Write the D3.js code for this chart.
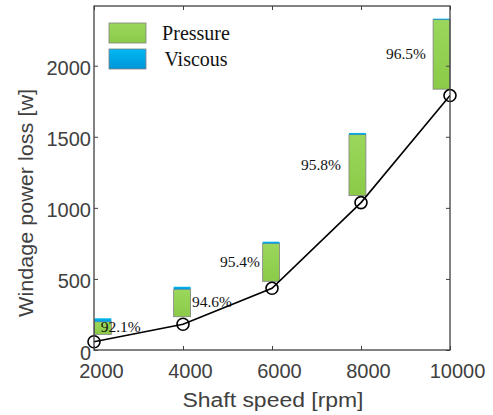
<!DOCTYPE html>
<html>
<head>
<meta charset="utf-8">
<script src="https://cdn.jsdelivr.net/npm/d3@7"></script>
<style>
  body { margin: 0; background: #fff; }
  svg { display: block; }
</style>
</head>
<body>
<svg id="chart"></svg>
<script>
// shaft speeds and total windage loss (line with circles)
const speeds = [2000, 4000, 6000, 8000, 10000];
const totalLoss = [58, 181, 434, 1037, 1790];

// floating stacked bars: centre speed, base, pressure part, viscous part
const barSpeeds = [2200, 3980, 5980, 7920, 9810];
const barBase = [110, 234, 483, 1086, 1835];
const pressure = [89, 193, 266, 429, 489];
const viscous = [24, 18, 13, 12, 7];

const shareLabels = ['92.1%', '94.6%', '95.4%', '95.8%', '96.5%'];
const labelSpeeds = [2150, 4200, 5730, 7550, 9460];
const labelAnchors = ['start', 'start', 'end', 'end', 'end'];

const xTicks = [2000, 4000, 6000, 8000, 10000];
const yTicks = [0, 500, 1000, 1500, 2000];
const legendNames = ['Pressure', 'Viscous'];

const width = 493, height = 415;
const margin = {top: 6, right: 43, bottom: 65, left: 94};
const axisCol = '#404040';

const svg = d3.select('#chart').attr('width', width).attr('height', height);

const defs = svg.append('defs');
const gGreen = defs.append('linearGradient').attr('id', 'gGreen').attr('x1', 0).attr('y1', 0).attr('x2', 0).attr('y2', 1);
gGreen.append('stop').attr('offset', 0).attr('stop-color', '#9ad75c');
gGreen.append('stop').attr('offset', 1).attr('stop-color', '#8bcb48');
const gBlue = defs.append('linearGradient').attr('id', 'gBlue').attr('x1', 0).attr('y1', 0).attr('x2', 0).attr('y2', 1);
gBlue.append('stop').attr('offset', 0).attr('stop-color', '#00b8f2');
gBlue.append('stop').attr('offset', 1).attr('stop-color', '#0096d8');

const x = d3.scaleLinear().domain([2000, 10000]).range([margin.left, width - margin.right]);
const y = d3.scaleLinear().domain([0, 2420]).range([height - margin.bottom, margin.top]);
const barW = x(2380) - x(2000);

// bars
const bars = svg.append('g').attr('stroke', '#808080').attr('stroke-width', 0.8);
bars.selectAll('rect.p')
  .data(speeds)
  .join('rect')
  .attr('class', 'p')
  .attr('x', (d, i) => Math.max(x(barSpeeds[i]) - barW / 2, margin.left))
  .attr('width', (d, i) => Math.min(x(barSpeeds[i]) + barW / 2, width - margin.right) - Math.max(x(barSpeeds[i]) - barW / 2, margin.left))
  .attr('y', (d, i) => y(barBase[i] + pressure[i]))
  .attr('height', (d, i) => y(barBase[i]) - y(barBase[i] + pressure[i]))
  .attr('fill', 'url(#gGreen)');
bars.selectAll('rect.v')
  .data(speeds)
  .join('rect')
  .attr('class', 'v')
  .attr('x', (d, i) => Math.max(x(barSpeeds[i]) - barW / 2, margin.left))
  .attr('width', (d, i) => Math.min(x(barSpeeds[i]) + barW / 2, width - margin.right) - Math.max(x(barSpeeds[i]) - barW / 2, margin.left))
  .attr('y', (d, i) => y(barBase[i] + pressure[i] + viscous[i]))
  .attr('height', (d, i) => y(barBase[i] + pressure[i]) - y(barBase[i] + pressure[i] + viscous[i]))
  .attr('fill', 'url(#gBlue)')
  .attr('stroke', 'none');

// share labels
svg.append('g')
  .attr('font-family', '"Liberation Serif", "Times New Roman", serif')
  .attr('font-size', 15.5)
  .attr('fill', '#111')
  .selectAll('text')
  .data(shareLabels)
  .join('text')
  .attr('x', (d, i) => x(labelSpeeds[i]))
  .attr('y', (d, i) => y(barBase[i] + (pressure[i] + viscous[i]) / 2))
  .attr('dy', '0.35em')
  .attr('text-anchor', (d, i) => labelAnchors[i])
  .text(d => d);

// loss line
const line = d3.line().x(d => x(d[0])).y(d => y(d[1]));
svg.append('path')
  .datum(speeds.map((s, i) => [s, totalLoss[i]]))
  .attr('fill', 'none')
  .attr('stroke', '#000')
  .attr('stroke-width', 1.6)
  .attr('d', line);
svg.append('g')
  .selectAll('circle')
  .data(speeds)
  .join('circle')
  .attr('cx', d => x(d))
  .attr('cy', (d, i) => y(totalLoss[i]))
  .attr('r', 6)
  .attr('fill', 'none')
  .attr('stroke', '#000')
  .attr('stroke-width', 1.6);

// axes box with inward ticks
const fontSans = '"Liberation Sans", Arial, sans-serif';
function styleAxis(g) {
  g.select('.domain').remove();
  g.selectAll('.tick line').attr('stroke', axisCol);
  g.selectAll('.tick text').attr('fill', axisCol).attr('font-family', fontSans).attr('font-size', 20);
}
svg.append('g')
  .attr('transform', `translate(0,${y(0)})`)
  .call(d3.axisBottom(x).tickValues(xTicks).tickFormat(d3.format('d')).tickSize(-4).tickPadding(14))
  .call(styleAxis)
  .call(g => g.selectAll('.tick text').attr('dx', 7));
svg.append('g')
  .attr('transform', `translate(0,${margin.top})`)
  .call(d3.axisTop(x).tickValues(xTicks).tickFormat('').tickSize(-4))
  .call(styleAxis);
svg.append('g')
  .attr('transform', `translate(${margin.left},0)`)
  .call(d3.axisLeft(y).tickValues(yTicks).tickFormat(d3.format('d')).tickSize(-4).tickPadding(3))
  .call(styleAxis)
  .call(g => g.selectAll('.tick text').attr('dy', '0.45em'));
svg.append('g')
  .attr('transform', `translate(${width - margin.right},0)`)
  .call(d3.axisRight(y).tickValues(yTicks).tickFormat('').tickSize(-4))
  .call(styleAxis);
svg.append('rect')
  .attr('x', margin.left)
  .attr('y', margin.top)
  .attr('width', width - margin.right - margin.left)
  .attr('height', y(0) - margin.top)
  .attr('fill', 'none')
  .attr('stroke', axisCol)
  .attr('stroke-width', 1.3);

// axis titles
svg.append('text')
  .attr('x', (margin.left + width - margin.right) / 2 + 1)
  .attr('y', 407)
  .attr('text-anchor', 'middle')
  .attr('font-family', fontSans)
  .attr('font-size', 20)
  .attr('fill', axisCol)
  .attr('textLength', 181)
  .attr('lengthAdjust', 'spacingAndGlyphs')
  .text('Shaft speed [rpm]');
svg.append('text')
  .attr('transform', `translate(33,${203}) rotate(-90)`)
  .attr('text-anchor', 'middle')
  .attr('font-family', fontSans)
  .attr('font-size', 20)
  .attr('fill', axisCol)
  .attr('textLength', 228)
  .attr('lengthAdjust', 'spacingAndGlyphs')
  .text('Windage power loss [w]');

// legend
const legend = svg.append('g').attr('transform', `translate(${margin.left + 15},23)`);
const swatches = ['url(#gGreen)', 'url(#gBlue)'];
legend.selectAll('rect')
  .data(legendNames)
  .join('rect')
  .attr('x', 0)
  .attr('y', (d, i) => i * 26)
  .attr('width', 37)
  .attr('height', 20)
  .attr('fill', (d, i) => swatches[i])
  .attr('stroke', '#808080')
  .attr('stroke-width', 0.8);
legend.selectAll('text')
  .data(legendNames)
  .join('text')
  .attr('x', 87)
  .attr('y', (d, i) => i * 26 + 10)
  .attr('dy', '0.35em')
  .attr('text-anchor', 'middle')
  .attr('font-family', '"Liberation Serif", "Times New Roman", serif')
  .attr('font-size', 20)
  .attr('fill', '#111')
  .text(d => d);
</script>
</body>
</html>
